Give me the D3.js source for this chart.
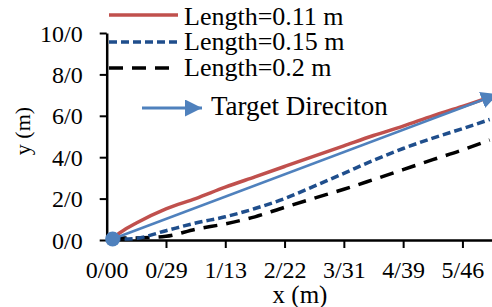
<!DOCTYPE html>
<html><head><meta charset="utf-8">
<script src="https://cdn.jsdelivr.net/npm/d3@7"></script>
<style>
html,body{margin:0;padding:0;background:#fff;overflow:hidden}
svg{display:block}
svg text{font-family:'Liberation Serif','Times New Roman',Times,'DejaVu Serif',serif !important;fill:#000}
</style></head><body>
<svg id="c" width="492" height="307"></svg>
<script>
// ---- data (x in tick units, y in m) ----
const xTickLabels = ["0/00","0/29","1/13","2/22","3/31","4/39","5/46"];
const yTickValues = [0,2,4,6,8,10];
const yTickLabels = ["0/0","2/0","4/0","6/0","8/0","10/0"];
const seriesNames = ["Length=0.11 m","Length=0.15 m","Length=0.2 m","Target Direciton"];
const xs = [0.1,0.3,0.5,1.0,1.5,2.0,2.5,3.0,3.5,4.0,4.5,5.0,5.5,6.0,6.46];
const red   = [0.1,0.5,0.82,1.5,2.0,2.55,3.05,3.55,4.05,4.55,5.05,5.5,6.0,6.45,6.9];
const blue  = [0.05,0.05,0.08,0.45,0.82,1.12,1.52,2.0,2.6,3.22,3.85,4.42,4.92,5.38,5.82];
const black = [0.05,0.1,0.1,0.18,0.52,0.78,1.12,1.58,2.02,2.45,2.92,3.4,3.88,4.35,4.83];
const targetX = [0.1,6.6];
const targetY = [0.05,7.05];

const svg = d3.select("#c");
const x = d3.scaleLinear().domain([0,6.6]).range([106.7,498]);
const y = d3.scaleLinear().domain([0,10]).range([240,33]);
const FONT = "'Liberation Serif','Times New Roman',Times,'DejaVu Serif',serif";

// axes
const gx = svg.append("g").attr("transform","translate(0,240)")
  .call(d3.axisBottom(x).tickValues(d3.range(xTickLabels.length)).tickFormat((d,i)=>xTickLabels[i]).tickSize(8).tickSizeOuter(0));
gx.attr("font-family",FONT).attr("font-size",24);
gx.select(".domain").attr("stroke","#000").attr("stroke-width",2.5);
gx.selectAll(".tick line").attr("stroke","#000").attr("stroke-width",2).attr("opacity",(d)=>d===0?0:1);
gx.selectAll(".tick text").attr("y",38).attr("dy",null).attr("font-size",24);

const gy = svg.append("g").attr("transform","translate(106.7,0)")
  .call(d3.axisLeft(y).tickValues(yTickValues).tickFormat((d,i)=>yTickLabels[i]).tickSize(7).tickPadding(17).tickSizeOuter(0));
gy.attr("font-family",FONT).attr("font-size",24);
gy.select(".domain").attr("stroke","#000").attr("stroke-width",2.5);
gy.selectAll(".tick line").attr("stroke","#000").attr("stroke-width",2);
gy.selectAll(".tick text").attr("dy","0.34em").attr("font-size",24);

svg.append("text").attr("x",300).attr("y",303).attr("text-anchor","middle").attr("font-family",FONT).attr("font-size",25).text("x (m)");
svg.append("text").attr("transform","translate(30,131) rotate(-90)").attr("text-anchor","middle").attr("font-family",FONT).attr("font-size",22).text("y (m)");

// arrow marker
const defs = svg.append("defs");
defs.append("marker").attr("id","arr").attr("markerUnits","userSpaceOnUse")
  .attr("markerWidth",18).attr("markerHeight",18).attr("refX",17).attr("refY",8.5)
  .attr("orient","auto").append("path").attr("d","M0,0L17,8.5L0,17Z").attr("fill","#4F81BD");

const line = d3.line().x(d=>x(d[0])).y(d=>y(d[1])).curve(d3.curveMonotoneX);
const zip = (a,b)=>a.map((v,i)=>[v,b[i]]);

svg.append("path").datum(zip(xs,black)).attr("d",line).attr("fill","none")
  .attr("stroke","#000").attr("stroke-width",3.5).attr("stroke-dasharray","14,9");
svg.append("path").datum(zip(xs,blue)).attr("d",line).attr("fill","none")
  .attr("stroke","#1F4E8C").attr("stroke-width",3.5).attr("stroke-dasharray","8,4");
svg.append("path").datum(zip(xs,red)).attr("d",line).attr("fill","none")
  .attr("stroke","#C0504D").attr("stroke-width",3.5);
svg.append("path").datum(zip(targetX,targetY)).attr("d",d3.line().x(d=>x(d[0])).y(d=>y(d[1])))
  .attr("fill","none").attr("stroke","#4F81BD").attr("stroke-width",2.5).attr("marker-end","url(#arr)");
svg.append("circle").attr("cx",x(targetX[0])).attr("cy",y(targetY[0])).attr("r",7.5).attr("fill","#4F81BD");

// legend
const lg = svg.append("g").attr("font-family",FONT);
const leg = [
  {name:seriesNames[0],color:"#C0504D",dash:null,ly:15,ty:25},
  {name:seriesNames[1],color:"#1F4E8C",dash:"8,4",ly:42,ty:50},
  {name:seriesNames[2],color:"#000",dash:"14,9",ly:68,ty:76}
];
leg.forEach(d=>{
  lg.append("line").attr("x1",109).attr("x2",178).attr("y1",d.ly).attr("y2",d.ly)
    .attr("stroke",d.color).attr("stroke-width",3.5).attr("stroke-dasharray",d.dash);
  lg.append("text").attr("x",184).attr("y",d.ty).attr("font-size",26).text(d.name);
});
lg.append("line").attr("x1",142).attr("x2",202).attr("y1",108).attr("y2",108)
  .attr("stroke","#4F81BD").attr("stroke-width",3).attr("marker-end","url(#arr)");
lg.append("text").attr("x",211).attr("y",115).attr("font-size",27).text(seriesNames[3]);
</script></body></html>
